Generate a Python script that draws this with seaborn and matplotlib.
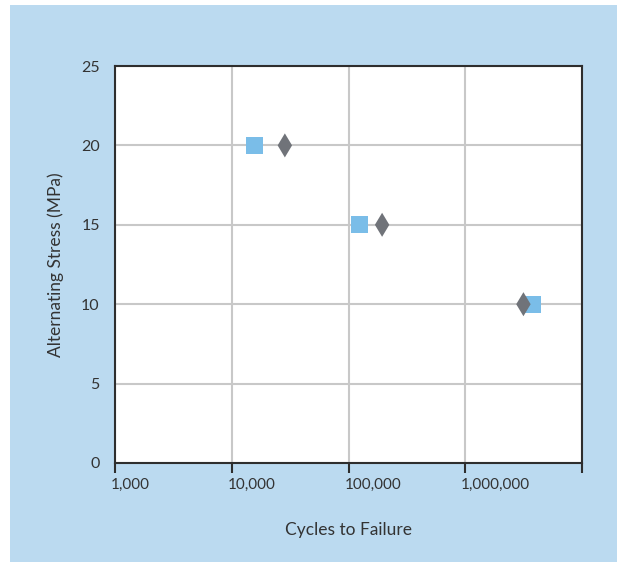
#!/usr/bin/env python3
'''
Fatigue data: alternating stress vs cycles to failure.
'''
import matplotlib
matplotlib.use("Agg")
import matplotlib.pyplot as plt
import matplotlib.ticker as mticker
import matplotlib.transforms as mtrans
from matplotlib.patches import Rectangle
import pandas as pd
import seaborn as sns

# data
series = ["A", "A", "A", "B", "B", "B"]
cycles = [15800, 124000, 3730000, 28500, 194000, 3150000]
stress = [20, 15, 10, 20, 15, 10]
x_ticks = [1e3, 1e4, 1e5, 1e6, 1e7]
y_ticks = [0, 5, 10, 15, 20, 25]

df = pd.DataFrame({"series": series, "cycles": cycles, "stress": stress})

sns.set_theme(style="white")
plt.rcParams["font.family"] = ["Lato", "DejaVu Sans"]

fig = plt.figure(figsize=(6.17, 5.62), dpi=100)
fig.patch.set_facecolor("white")
fig.patches.append(Rectangle((10 / 617, 0), 1, 557 / 562, transform=fig.transFigure,
                             facecolor="#bbdaf0", edgecolor="none", zorder=-10))

ax = fig.add_axes([115 / 617, 99 / 562, 467 / 617, 397 / 562])
ax.set_facecolor("white")

sns.scatterplot(data=df, x="cycles", y="stress", hue="series", style="series",
                palette={"A": "#7abde8", "B": "#707379"},
                markers={"A": "s", "B": "d"}, s=150, linewidth=0,
                legend=False, ax=ax, zorder=3)

ax.set_xscale("log")
ax.set_xlim(1e3, 1e7)
ax.set_ylim(0, 25)
ax.set_xticks(x_ticks)
ax.set_yticks(y_ticks)
ax.xaxis.set_minor_locator(mticker.NullLocator())
ax.xaxis.set_major_formatter(mticker.FuncFormatter(
    lambda v, p: "" if v >= 1e7 else f"{int(round(v)):,}"))

ax.grid(True, color="#c8c8c8", linewidth=1.5, zorder=0)
ax.set_axisbelow(True)
for sp in ax.spines.values():
    sp.set_color("#2e2e2e")
    sp.set_linewidth(1.5)

ax.tick_params(axis="x", which="major", bottom=True, direction="out", length=7.5,
               width=1.5, color="#2e2e2e", pad=3, labelsize=11, labelcolor="#333333")
ax.tick_params(axis="y", left=False, length=0, pad=11, labelsize=11.5,
               labelcolor="#333333")
shift = mtrans.ScaledTranslation(-4 / 100, 0, fig.dpi_scale_trans)
for lab in ax.get_xticklabels():
    lab.set_horizontalalignment("left")
    lab.set_transform(lab.get_transform() + shift)

ax.set_xlabel("Cycles to Failure", fontsize=12.5, color="#333333", labelpad=22)
ax.set_ylabel("Alternating Stress (MPa)", fontsize=12.5, color="#333333", labelpad=12)

fig.savefig("out.png", dpi=100)
